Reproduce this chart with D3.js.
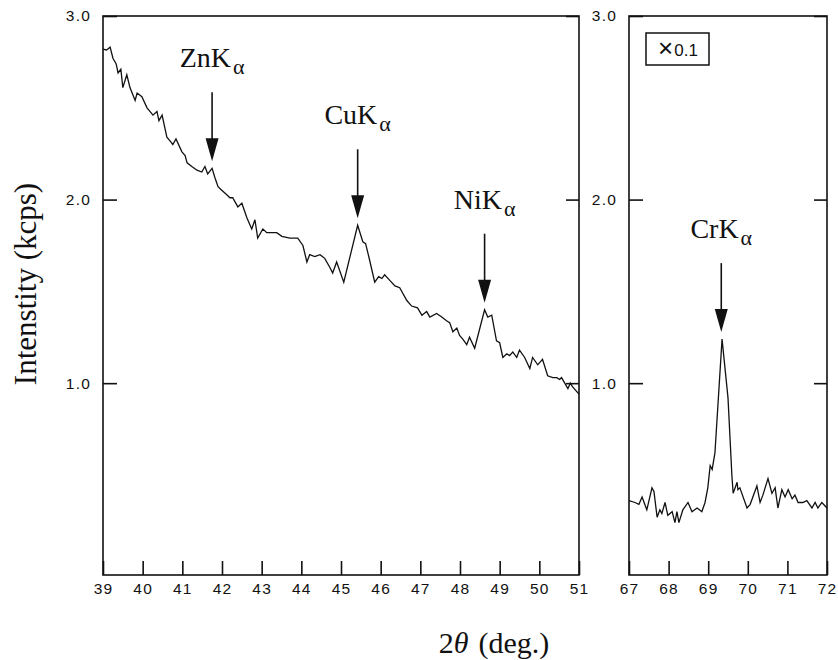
<!DOCTYPE html>
<html>
<head>
<meta charset="utf-8">
<script src="https://cdn.jsdelivr.net/npm/d3@7"></script>
<style>
  html, body { margin: 0; padding: 0; background: #fff; }
  svg { display: block; }
  .tick text { font-family: "Liberation Sans", Arial, sans-serif; font-size: 15.5px; letter-spacing: 1.2px; fill: #111; }
  .serif { font-family: "Liberation Serif", "Times New Roman", serif; fill: #111; }
</style>
</head>
<body>
<svg width="838" height="660"></svg>
<script>
// ---- Dados
const leftTheta = [39.00, 39.09, 39.18, 39.25, 39.33, 39.38, 39.45, 39.50, 39.60, 39.68, 39.81, 39.86, 39.98,
  40.11, 40.26, 40.36, 40.41, 40.49, 40.61, 40.69, 40.76, 40.84, 40.99, 41.07, 41.12, 41.24, 41.37, 41.49,
  41.57, 41.64, 41.75, 41.82, 41.90, 42.00, 42.10, 42.20, 42.27, 42.40, 42.50, 42.63, 42.75, 42.83, 42.90,
  43.03, 43.13, 43.25, 43.38, 43.51, 43.71, 43.91, 44.04, 44.14, 44.21, 44.34, 44.47, 44.59, 44.72, 44.79,
  44.89, 45.07, 45.42, 45.55, 45.62, 45.70, 45.85, 45.95, 46.03, 46.10, 46.23, 46.36, 46.48, 46.66, 46.78,
  46.93, 47.04, 47.16, 47.24, 47.41, 47.54, 47.66, 47.74, 47.82, 47.92, 47.99, 48.07, 48.17, 48.24, 48.37,
  48.62, 48.70, 48.80, 48.92, 49.00, 49.08, 49.18, 49.25, 49.33, 49.43, 49.50, 49.63, 49.76, 49.83, 49.96,
  50.08, 50.21, 50.34, 50.44, 50.51, 50.56, 50.64, 50.72, 50.78, 50.84, 51.00];
const leftIntensity = [2.82, 2.815, 2.83, 2.77, 2.74, 2.69, 2.71, 2.61, 2.68, 2.61, 2.54, 2.58, 2.56,
  2.50, 2.46, 2.48, 2.43, 2.46, 2.34, 2.32, 2.30, 2.33, 2.26, 2.24, 2.20, 2.18, 2.16, 2.15,
  2.18, 2.14, 2.17, 2.12, 2.07, 2.05, 2.03, 2.01, 2.01, 1.96, 1.98, 1.90, 1.84, 1.89, 1.79,
  1.84, 1.82, 1.82, 1.82, 1.80, 1.79, 1.79, 1.75, 1.66, 1.70, 1.69, 1.70, 1.68, 1.63, 1.60,
  1.66, 1.55, 1.86, 1.77, 1.76, 1.69, 1.55, 1.58, 1.57, 1.59, 1.56, 1.53, 1.52, 1.45, 1.42,
  1.41, 1.37, 1.39, 1.36, 1.38, 1.36, 1.34, 1.33, 1.28, 1.30, 1.26, 1.24, 1.21, 1.25, 1.19,
  1.40, 1.36, 1.37, 1.23, 1.22, 1.14, 1.16, 1.15, 1.17, 1.14, 1.18, 1.14, 1.08, 1.14, 1.10,
  1.13, 1.04, 1.03, 1.03, 1.02, 1.03, 1.00, 0.97, 1.00, 0.98, 0.94];

const rightTheta = [67.00, 67.15, 67.25, 67.33, 67.45, 67.58, 67.63, 67.71, 67.78, 67.83, 67.91, 67.98,
  68.09, 68.16, 68.21, 68.26, 68.36, 68.49, 68.59, 68.72, 68.84, 68.92, 68.99, 69.05, 69.10, 69.17,
  69.35, 69.50, 69.60, 69.63, 69.73, 69.75, 69.80, 69.98, 70.06, 70.23, 70.31, 70.38, 70.51, 70.61,
  70.69, 70.76, 70.86, 70.94, 71.02, 71.12, 71.19, 71.27, 71.39, 71.49, 71.62, 71.70, 71.77, 71.87, 72.00];
const rightIntensity = [0.36, 0.35, 0.34, 0.38, 0.31, 0.43, 0.41, 0.27, 0.31, 0.29, 0.35, 0.28,
  0.30, 0.24, 0.30, 0.24, 0.31, 0.35, 0.30, 0.32, 0.30, 0.35, 0.43, 0.55, 0.53, 0.62,
  1.24, 0.92, 0.49, 0.40, 0.46, 0.42, 0.43, 0.32, 0.34, 0.44, 0.35, 0.39, 0.48, 0.40,
  0.43, 0.32, 0.42, 0.38, 0.42, 0.37, 0.39, 0.35, 0.35, 0.36, 0.32, 0.35, 0.32, 0.35, 0.32];

const leftTicks = [39, 40, 41, 42, 43, 44, 45, 46, 47, 48, 49, 50, 51];
const rightTicks = [67, 68, 69, 70, 71, 72];
const yTicks = [1.0, 2.0, 3.0];

// picos marcados (elemento, 2θ, painel)
const peakElements = ["Zn", "Cu", "Ni", "Cr"];
const peakTheta = [41.75, 45.42, 48.62, 69.33];
const peakPanel = ["left", "left", "left", "right"];

const scaleSign = "×", scaleFactor = "0.1";

// ---- Layout
const svg = d3.select('svg');
const plotTop = 16, plotBottom = 575;
const panels = {
  left: { x0: 103, x1: 579, domain: [39, 51], ticks: leftTicks, theta: leftTheta, val: leftIntensity },
  right: { x0: 629, x1: 827, domain: [67, 72], ticks: rightTicks, theta: rightTheta, val: rightIntensity }
};

const mapY = d3.scaleLinear().domain([-0.045, 3.0]).range([plotBottom, plotTop]);

Object.entries(panels).forEach(([key, p]) => {
  p.mapX = d3.scaleLinear().domain(p.domain).range([p.x0, p.x1]);
  const g = svg.append('g').attr('id', 'panel-' + key);

  // eixo X (ticks para dentro)
  g.append('g')
    .attr('transform', `translate(0, ${plotBottom})`)
    .call(d3.axisBottom(p.mapX).tickValues(p.ticks).tickSize(-14).tickSizeOuter(0).tickPadding(8)
      .tickFormat(d3.format('d')))
    .call(a => a.select('.domain').remove())
    .call(a => a.selectAll('.tick line').attr('stroke', '#111').attr('stroke-width', 1.6));

  // eixo Y esquerdo
  g.append('g')
    .attr('transform', `translate(${p.x0}, 0)`)
    .call(d3.axisLeft(mapY).tickValues(yTicks).tickSize(-14).tickSizeOuter(0).tickPadding(12)
      .tickFormat(d3.format('.1f')))
    .call(a => a.select('.domain').remove())
    .call(a => a.selectAll('.tick line').attr('stroke', '#111').attr('stroke-width', 1.6));

  // eixo Y direito (sem rótulos)
  g.append('g')
    .attr('transform', `translate(${p.x1}, 0)`)
    .call(d3.axisRight(mapY).tickValues(yTicks).tickSize(-13).tickSizeOuter(0).tickFormat(''))
    .call(a => a.select('.domain').remove())
    .call(a => a.selectAll('.tick line').attr('stroke', '#111').attr('stroke-width', 1.6));

  // moldura
  g.append('rect')
    .attr('x', p.x0).attr('y', plotTop)
    .attr('width', p.x1 - p.x0).attr('height', plotBottom - plotTop)
    .attr('fill', 'none').attr('stroke', '#111').attr('stroke-width', 1.6);

  // curva
  const pts = p.theta.map((t, i) => [t, p.val[i]]);
  g.append('path')
    .datum(pts)
    .attr('fill', 'none')
    .attr('stroke', '#111')
    .attr('stroke-width', 1.3)
    .attr('stroke-linejoin', 'miter')
    .attr('d', d3.line().x(d => p.mapX(d[0])).y(d => mapY(d[1])));
});

// ---- Setas e rótulos dos picos
const arrowLen = 69, headLen = 23, headW = 6.5;
peakElements.forEach((el, i) => {
  const p = panels[peakPanel[i]];
  const t = peakTheta[i];
  const idx = d3.leastIndex(p.theta, v => Math.abs(v - t));
  const x = p.mapX(t);
  const tipY = mapY(p.val[idx]) - 7;
  const topY = tipY - arrowLen;
  svg.append('line')
    .attr('x1', x).attr('x2', x).attr('y1', topY).attr('y2', tipY - headLen + 2)
    .attr('stroke', '#111').attr('stroke-width', 1.6);
  svg.append('path')
    .attr('d', `M${x - headW},${tipY - headLen} L${x + headW},${tipY - headLen} L${x},${tipY} Z`)
    .attr('fill', '#111');
  const txt = svg.append('text')
    .attr('class', 'serif')
    .attr('x', x).attr('y', topY - 25)
    .attr('text-anchor', 'middle')
    .style('font-size', '28px');
  txt.append('tspan').text(el + 'K');
  txt.append('tspan').attr('dy', 7).attr('dx', 2).style('font-size', '22px').text('α');
});

// ---- Caixa "×0.1"
svg.append('rect')
  .attr('x', 646).attr('y', 33).attr('width', 63).attr('height', 32)
  .attr('fill', 'none').attr('stroke', '#111').attr('stroke-width', 1.5);
const note = svg.append('text')
  .attr('x', 678).attr('y', 56)
  .attr('text-anchor', 'middle')
  .style('font-family', '"Liberation Sans", Arial, sans-serif')
  .style('font-size', '17px')
  .attr('fill', '#111');
note.append('tspan').style('font-size', '26px').attr('dy', 1).text(scaleSign);
note.append('tspan').attr('dy', -1).attr('dx', 1).text(scaleFactor);

// ---- Títulos dos eixos
svg.append('text')
  .attr('class', 'serif')
  .attr('transform', 'translate(36, 284) rotate(-90)')
  .attr('text-anchor', 'middle')
  .style('font-size', '31px')
  .text('Intenstity (kcps)');

const xt = svg.append('text')
  .attr('class', 'serif')
  .attr('x', 494).attr('y', 653)
  .attr('text-anchor', 'middle')
  .style('font-size', '30px');
xt.append('tspan').text('2');
xt.append('tspan').style('font-style', 'italic').text('θ');
xt.append('tspan').attr('dx', 10).text('(deg.)');
</script>
</body>
</html>
